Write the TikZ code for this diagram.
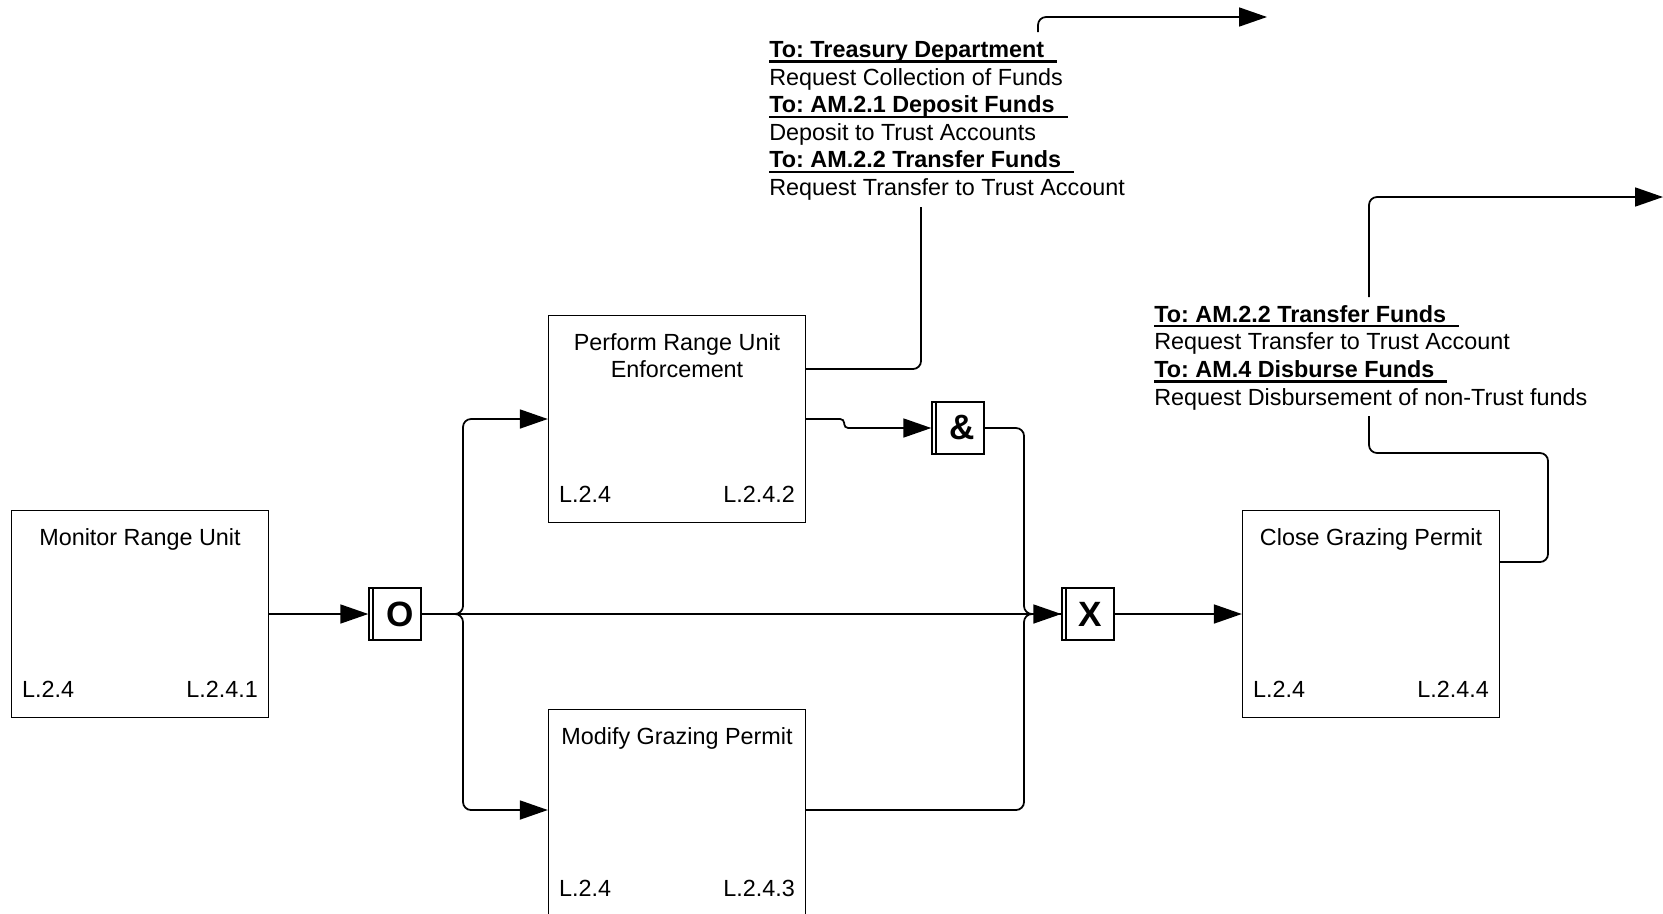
\documentclass[tikz,border=0pt]{standalone}
\usepackage{fontspec}
\setmainfont{Liberation Sans}
\usetikzlibrary{calc,arrows.meta}

% bold heading with a heavy underline running past the words
\newcommand\hd[1]{\setbox0\hbox{\bfseries #1\ \ }%
  \rlap{\vrule height -1.7pt depth 2.9pt width \wd0}\box0}

\begin{document}
\frenchspacing
\begin{tikzpicture}[x=0.02cm,y=-0.02cm,
  font=\fontsize{13.3}{15.7}\selectfont,
  func/.style={draw,line width=0.8pt,minimum width=5.14cm,minimum height=4.14cm,inner sep=0},
  gate/.style={draw,line width=0.8pt,minimum size=1.04cm,inner sep=0,
    font=\fontsize{20}{22}\selectfont\bfseries},
  wire/.style={line width=1pt,rounded corners=0.16cm},
  flow/.style={wire,-{Triangle[length=0.56cm,width=0.38cm]}}]
  \useasboundingbox (0,0) rectangle (1663,913);

  \foreach \n/\x/\y/\t/\c in {mon/140/614/{Monitor Range Unit}/L.2.4.1,
      perf/677/419/{Perform Range Unit\\Enforcement}/L.2.4.2,
      mod/677/813/{Modify Grazing Permit}/L.2.4.3,
      close/1371/614/{Close Grazing Permit}/L.2.4.4}{
    \node[func] (\n) at (\x,\y) {};
    \node[align=center,anchor=north,inner sep=0] (\n-t) at ($(\n.north)+(0,18)$) {\t};
    \node[anchor=base west,inner sep=0] (\n-a) at ($(\n.south west)+(11,-21)$) {L.2.4};
    \node[anchor=base east,inner sep=0] (\n-b) at ($(\n.south east)+(-11,-21)$) {\c};
  }

  \node[gate] (og) at (395,614) {\hspace{6pt}O};
  \node[gate] (ag) at (958,428) {\hspace{5pt}\&};
  \node[gate] (xg) at (1088,614) {\hspace{3pt}X};
  \foreach \g in {og,ag,xg}
    \draw[line width=0.8pt] ([xshift=0.09cm]\g.north west) -- ([xshift=0.09cm]\g.south west);

  \coordinate (br) at (463,614);
  \coordinate (jn) at (1024,614);
  \draw[flow] (mon.east) -- (og.west);
  \draw[flow] (og.east) -- (xg.west);
  \draw[flow] (og.east) -- (br) |- (perf.west);
  \draw[flow] (og.east) -- (br) |- ([yshift=0.06cm]mod.west);
  \draw[flow,rounded corners=0.08cm] (perf.east) -- ++(38,0) |- (ag.west);
  \draw[wire] (ag.east) -| (jn) -- (xg.west);
  \draw[wire] ([yshift=0.06cm]mod.east) -| (jn) -- (xg.west);
  \draw[flow] (xg.east) -- (close.west);

  \node[align=left,anchor=north west,inner sep=0] (treas) at (769,41)
    {\hd{To: Treasury Department}\\
     Request Collection of Funds\\
     \hd{To: AM.2.1 Deposit Funds}\\
     Deposit to Trust Accounts\\
     \hd{To: AM.2.2 Transfer Funds}\\
     Request Transfer to Trust Account};
  \coordinate (pu) at ($(perf.east)+(0,-50)$);
  \coordinate (t1) at (921,207);
  \coordinate (t2) at (1038,32);
  \coordinate (t3) at (1267,17);
  \draw[wire] (pu) -| (t1);
  \draw[flow] (t2) |- (t3);

  \node[align=left,anchor=north west,inner sep=0] (disb) at (1154,305)
    {\hd{To: AM.2.2 Transfer Funds}\\
     Request Transfer to Trust Account\\
     \hd{To: AM.4 Disburse Funds}\\
     Request Disbursement of non-Trust funds};
  \coordinate (cu) at ($(close.east)+(0,-52)$);
  \coordinate (c0) at (1548,453);
  \coordinate (c1) at (1369,416);
  \coordinate (c2) at (1369,297);
  \coordinate (c3) at (1663,197);
  \draw[wire] (cu) -| (c0) -| (c1);
  \draw[flow] (c2) |- (c3);
\end{tikzpicture}
\end{document}
